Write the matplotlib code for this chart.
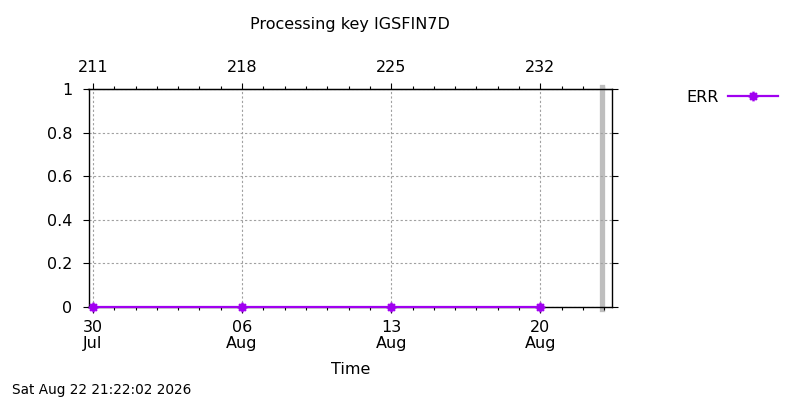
import datetime as dt
import matplotlib
matplotlib.use("Agg")
import matplotlib.pyplot as plt
import matplotlib.dates as mdates
from matplotlib.path import Path
from matplotlib.ticker import FuncFormatter

plt.rcParams["font.family"] = "DejaVu Sans"

#   data
dates = ["2026-07-30", "2026-08-06", "2026-08-13", "2026-08-20"]
err = [0, 0, 0, 0]
x_start = "2026-07-29 19:00"
x_end = "2026-08-23 08:40"
now = "2026-08-22 21:22:02"
y_ticks = [0, 0.2, 0.4, 0.6, 0.8, 1]
y_labels = ["0", "0.2", "0.4", "0.6", "0.8", "1"]

x = [mdates.date2num(dt.datetime.fromisoformat(d)) for d in dates]
x0 = mdates.date2num(dt.datetime.fromisoformat(x_start))
x1 = mdates.date2num(dt.datetime.fromisoformat(x_end))
xnow = mdates.date2num(dt.datetime.fromisoformat(now))

# gnuplot style "*" point: a + and an x on top of each other
star = Path([(-1, 0), (1, 0), (0, -1), (0, 1),
             (-.7, -.7), (.7, .7), (-.7, .7), (.7, -.7)],
            [Path.MOVETO, Path.LINETO] * 4)

fs = 11.5
fig = plt.figure(figsize=(8, 4), dpi=100)
ax = fig.add_axes([88.5 / 800, 1 - 307 / 400, (612 - 88.5) / 800, (307 - 89) / 400])

ax.axvline(xnow, color="#bebebe", lw=3.8, zorder=1, clip_on=False,
           ymin=-0.01, ymax=1.01)
ax.plot(x, err, color="#a000f0", lw=1.6, marker=star, ms=7, mew=1.8,
        label="ERR", zorder=3, clip_on=False)

ax.set_xlim(x0, x1)
ax.set_ylim(0, 1)

major = [x[0] + 7 * i for i in range(4)]
ax.set_xticks(major)
ax.xaxis.set_major_formatter(mdates.DateFormatter("%d\n%b"))
ax.xaxis.set_minor_locator(mdates.DayLocator())
ax.set_yticks(y_ticks)
ax.set_yticklabels(y_labels)

ax.tick_params(which="major", direction="out", length=4.5, width=0.8,
               labelsize=fs, right=True)
ax.tick_params(which="minor", direction="out", length=2.5, width=0.8, right=False)
ax.tick_params(axis="y", pad=7)
ax.tick_params(axis="x", pad=4.5)
for lbl in ax.get_xticklabels():
    lbl.set_linespacing(1.15)

sec = ax.secondary_xaxis("top")
sec.set_xticks(major)
sec.xaxis.set_major_formatter(
    FuncFormatter(lambda v, p: str(mdates.num2date(v).timetuple().tm_yday)))
sec.xaxis.set_minor_locator(mdates.DayLocator())
sec.tick_params(which="major", direction="out", length=4.5, width=0.8,
                labelsize=fs, pad=5.5)
sec.tick_params(which="minor", direction="out", length=2.5, width=0.8)

ax.grid(True, which="major", color="#a0a0a0", lw=0.8, ls=(0, (2, 2)))
for s in ax.spines.values():
    s.set_linewidth(1)

ax.set_xlabel("Time", fontsize=fs, labelpad=8)
fig.text(350 / 800, 1 - 25 / 400, "Processing key IGSFIN7D",
         ha="center", va="center", fontsize=fs)
fig.text(12 / 800, 1 - 390 / 400, "Sat Aug 22 21:22:02 2026",
         ha="left", va="center", fontsize=9.8)

ax.legend(loc="center right", bbox_to_anchor=(778 / 800, 1 - 97 / 400),
          bbox_transform=fig.transFigure, frameon=False, markerfirst=False,
          borderpad=0, borderaxespad=0, handlelength=3.1, handletextpad=0.6,
          fontsize=fs)

fig.savefig("out.png", dpi=100)
